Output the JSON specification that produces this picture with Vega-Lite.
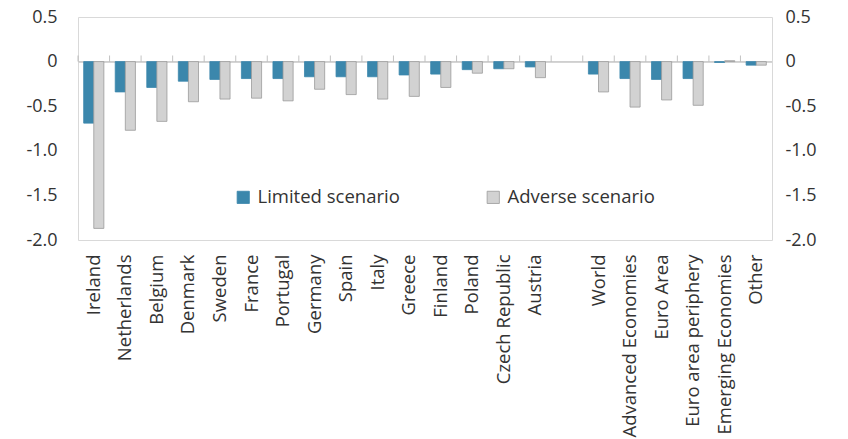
{
  "$schema": "https://vega.github.io/schema/vega-lite/v6.json",
  "width": 694,
  "height": 223,
  "autosize": "none",
  "padding": {"left": 78, "top": 17, "right": 76, "bottom": 199},
  "background": "white",
  "config": {
    "font": "Open Sans",
    "view": {"stroke": "#d9d9d9", "strokeWidth": 1},
    "axis": {"labelFont": "Open Sans", "labelColor": "#333", "labelFontSize": 18, "grid": false, "domain": false}
  },
  "datasets": {
    "slots": [
      {"country": "Ireland"}, {"country": "Netherlands"}, {"country": "Belgium"}, {"country": "Denmark"}, {"country": "Sweden"}, {"country": "France"}, {"country": "Portugal"}, {"country": "Germany"}, {"country": "Spain"}, {"country": "Italy"}, {"country": "Greece"}, {"country": "Finland"}, {"country": "Poland"}, {"country": "Czech Republic"}, {"country": "Austria"}, {"country": " "}, {"country": "World"}, {"country": "Advanced Economies"}, {"country": "Euro Area"}, {"country": "Euro area periphery"}, {"country": "Emerging Economies"}, {"country": "Other"}
    ],
    "bars": [
      {"country": "Ireland", "scenario": "Limited scenario", "value": -0.69},
      {"country": "Ireland", "scenario": "Adverse scenario", "value": -1.87},
      {"country": "Netherlands", "scenario": "Limited scenario", "value": -0.34},
      {"country": "Netherlands", "scenario": "Adverse scenario", "value": -0.77},
      {"country": "Belgium", "scenario": "Limited scenario", "value": -0.29},
      {"country": "Belgium", "scenario": "Adverse scenario", "value": -0.67},
      {"country": "Denmark", "scenario": "Limited scenario", "value": -0.22},
      {"country": "Denmark", "scenario": "Adverse scenario", "value": -0.45},
      {"country": "Sweden", "scenario": "Limited scenario", "value": -0.2},
      {"country": "Sweden", "scenario": "Adverse scenario", "value": -0.42},
      {"country": "France", "scenario": "Limited scenario", "value": -0.19},
      {"country": "France", "scenario": "Adverse scenario", "value": -0.41},
      {"country": "Portugal", "scenario": "Limited scenario", "value": -0.19},
      {"country": "Portugal", "scenario": "Adverse scenario", "value": -0.44},
      {"country": "Germany", "scenario": "Limited scenario", "value": -0.17},
      {"country": "Germany", "scenario": "Adverse scenario", "value": -0.31},
      {"country": "Spain", "scenario": "Limited scenario", "value": -0.17},
      {"country": "Spain", "scenario": "Adverse scenario", "value": -0.37},
      {"country": "Italy", "scenario": "Limited scenario", "value": -0.17},
      {"country": "Italy", "scenario": "Adverse scenario", "value": -0.42},
      {"country": "Greece", "scenario": "Limited scenario", "value": -0.15},
      {"country": "Greece", "scenario": "Adverse scenario", "value": -0.39},
      {"country": "Finland", "scenario": "Limited scenario", "value": -0.14},
      {"country": "Finland", "scenario": "Adverse scenario", "value": -0.29},
      {"country": "Poland", "scenario": "Limited scenario", "value": -0.09},
      {"country": "Poland", "scenario": "Adverse scenario", "value": -0.13},
      {"country": "Czech Republic", "scenario": "Limited scenario", "value": -0.08},
      {"country": "Czech Republic", "scenario": "Adverse scenario", "value": -0.08},
      {"country": "Austria", "scenario": "Limited scenario", "value": -0.06},
      {"country": "Austria", "scenario": "Adverse scenario", "value": -0.18},
      {"country": "World", "scenario": "Limited scenario", "value": -0.14},
      {"country": "World", "scenario": "Adverse scenario", "value": -0.34},
      {"country": "Advanced Economies", "scenario": "Limited scenario", "value": -0.19},
      {"country": "Advanced Economies", "scenario": "Adverse scenario", "value": -0.51},
      {"country": "Euro Area", "scenario": "Limited scenario", "value": -0.2},
      {"country": "Euro Area", "scenario": "Adverse scenario", "value": -0.43},
      {"country": "Euro area periphery", "scenario": "Limited scenario", "value": -0.19},
      {"country": "Euro area periphery", "scenario": "Adverse scenario", "value": -0.49},
      {"country": "Emerging Economies", "scenario": "Limited scenario", "value": -0.01},
      {"country": "Emerging Economies", "scenario": "Adverse scenario", "value": 0.01},
      {"country": "Other", "scenario": "Limited scenario", "value": -0.04},
      {"country": "Other", "scenario": "Adverse scenario", "value": -0.04}
    ]
  },
  "layer": [
    {
      "data": {"name": "bars"},
      "mark": {"type": "rule", "color": "#cfcfcf", "strokeWidth": 1},
      "encoding": {
        "y": {"datum": 0, "type": "quantitative", "scale": {"domain": [-2, 0.5]}, "axis": null}
      }
    },
    {
      "data": {"name": "slots"},
      "mark": {"type": "tick", "color": "#aaaaaa", "thickness": 1, "size": 6, "orient": "vertical", "yOffset": -3},
      "encoding": {
        "x": {"field": "country", "type": "nominal", "bandPosition": 0, "sort": null, "scale": {"type": "band", "domain": ["Ireland", "Netherlands", "Belgium", "Denmark", "Sweden", "France", "Portugal", "Germany", "Spain", "Italy", "Greece", "Finland", "Poland", "Czech Republic", "Austria", " ", "World", "Advanced Economies", "Euro Area", "Euro area periphery", "Emerging Economies", "Other"], "paddingInner": 0, "paddingOuter": 0}, "axis": null},
        "y": {"datum": 0, "type": "quantitative", "axis": null}
      }
    },
    {
      "data": {"name": "bars"},
      "mark": {"type": "bar", "strokeWidth": 0.8},
      "encoding": {
        "x": {
          "field": "country", "type": "nominal",
          "scale": {"domain": ["Ireland", "Netherlands", "Belgium", "Denmark", "Sweden", "France", "Portugal", "Germany", "Spain", "Italy", "Greece", "Finland", "Poland", "Czech Republic", "Austria", " ", "World", "Advanced Economies", "Euro Area", "Euro area periphery", "Emerging Economies", "Other"], "paddingInner": 0.36, "paddingOuter": 0.18},
          "axis": {"title": null, "orient": "bottom", "ticks": false, "labelAngle": 270, "labelAlign": "right", "labelBaseline": "middle", "labelPadding": 14, "labelFontSize": 18.5, "labelLimit": 220}
        },
        "xOffset": {"field": "scenario", "type": "nominal", "sort": ["Limited scenario", "Adverse scenario"], "scale": {"paddingInner": 0, "paddingOuter": 0}},
        "y": {
          "field": "value", "type": "quantitative",
          "scale": {"domain": [-2, 0.5], "nice": false, "zero": false},
          "axis": {"title": null, "orient": "left", "ticks": false, "values": [-2, -1.5, -1, -0.5, 0, 0.5], "labelPadding": 21, "labelExpr": "datum.value == 0 ? '0' : replace(format(datum.value, '.1f'), '−', '-')"}
        },
        "color": {
          "field": "scenario", "type": "nominal",
          "sort": ["Limited scenario", "Adverse scenario"],
          "scale": {"domain": ["Limited scenario", "Adverse scenario"], "range": ["#3b87ac", "#d2d2d2"]},
          "legend": {"title": null, "orient": "none", "direction": "horizontal", "legendX": 156, "legendY": 171, "symbolType": "square", "symbolSize": 150, "symbolStrokeWidth": 0.8, "symbolStrokeColor": "#9a9a9a", "labelFontSize": 18.5, "labelFont": "Open Sans", "labelColor": "#333", "columnPadding": 84, "labelOffset": 5, "labelLimit": 300}
        },
        "stroke": {
          "field": "scenario", "type": "nominal",
          "scale": {"domain": ["Limited scenario", "Adverse scenario"], "range": ["#3b87ac", "#9a9a9a"]},
          "legend": null
        }
      }
    },
    {
      "data": {"name": "bars"},
      "mark": {"type": "bar", "opacity": 0},
      "encoding": {
        "x": {"field": "country", "type": "nominal", "axis": null},
        "y": {
          "field": "value", "type": "quantitative",
          "axis": {"title": null, "orient": "right", "ticks": false, "values": [-2, -1.5, -1, -0.5, 0, 0.5], "labelPadding": 13, "labelExpr": "datum.value == 0 ? '0' : replace(format(datum.value, '.1f'), '−', '-')"}
        }
      }
    }
  ],
  "resolve": {"axis": {"x": "independent", "y": "independent"}, "scale": {"x": "independent", "y": "shared"}}
}
